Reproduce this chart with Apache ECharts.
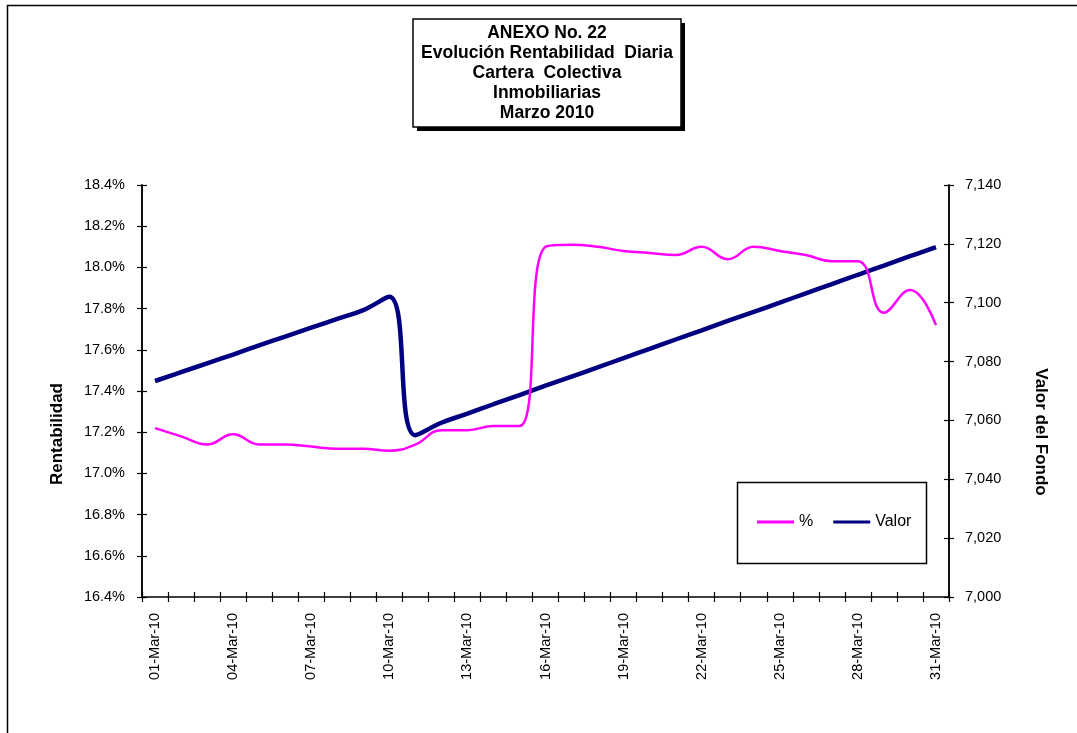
<!DOCTYPE html>
<html><head><meta charset="utf-8">
<script src="https://cdn.jsdelivr.net/npm/echarts@6/dist/echarts.min.js"></script>
<style>html,body{margin:0;padding:0;background:#fff}#c{width:1077px;height:733px}</style>
</head><body><div id="c"></div>
<script>
const categories = ['01-Mar-10','02-Mar-10','03-Mar-10','04-Mar-10','05-Mar-10','06-Mar-10','07-Mar-10','08-Mar-10','09-Mar-10','10-Mar-10','11-Mar-10','12-Mar-10','13-Mar-10','14-Mar-10','15-Mar-10','16-Mar-10','17-Mar-10','18-Mar-10','19-Mar-10','20-Mar-10','21-Mar-10','22-Mar-10','23-Mar-10','24-Mar-10','25-Mar-10','26-Mar-10','27-Mar-10','28-Mar-10','29-Mar-10','30-Mar-10','31-Mar-10'];
const rentabilidad = [17.22, 17.18, 17.14, 17.19, 17.14, 17.14, 17.13, 17.12, 17.12, 17.11, 17.14, 17.21, 17.21, 17.23, 17.23, 18.10, 18.11, 18.10, 18.08, 18.07, 18.06, 18.10, 18.04, 18.10, 18.08, 18.06, 18.03, 18.03, 17.78, 17.89, 17.72];
const valor = [7073.4, 7076.4, 7079.4, 7082.4, 7085.5, 7088.5, 7091.5, 7094.5, 7097.5, 7102.0, 7055.0, 7059.2, 7062.3, 7065.5, 7068.6, 7071.8, 7074.9, 7078.0, 7081.2, 7084.3, 7087.5, 7090.6, 7093.8, 7096.9, 7100.0, 7103.2, 7106.3, 7109.5, 7112.6, 7115.8, 7118.9];
const titleLines = ['ANEXO No. 22', 'Evolución Rentabilidad  Diaria', 'Cartera  Colectiva', 'Inmobiliarias', 'Marzo 2010'];
const seriesNames = ['%', 'Valor'];
const leftAxisName = 'Rentabilidad';
const rightAxisName = 'Valor del Fondo';

const FONT = "'Liberation Sans', Arial, sans-serif";
const chart = echarts.init(document.getElementById('c'));
const axisLineStyle = { color: '#000', width: 1.5 };
const tickStyle = { color: '#000', width: 1.2 };
function yBase(min, max, interval, pos, fmt, margin) {
  return {
    type: 'value', position: pos, min: min, max: max, interval: interval,
    axisLine: { show: true, lineStyle: axisLineStyle },
    axisTick: { show: true, length: 5, lineStyle: tickStyle },
    axisLabel: { fontFamily: FONT, fontSize: 14.5, color: '#000', margin: margin, formatter: fmt },
    splitLine: { show: false }
  };
}
const fmtPct = v => v.toFixed(1) + '%';
const fmtNum = v => Math.round(v).toString().replace(/\B(?=(\d{3})+(?!\d))/g, ',');
const yLeft = yBase(16.4, 18.4, 0.2, 'left', fmtPct, 17);
const yRight = yBase(7000, 7140, 20, 'right', fmtNum, 16);
const yLeftIn = yBase(16.4, 18.4, 0.2, 'left', fmtPct, 17);
yLeftIn.axisTick.inside = true; yLeftIn.axisLabel = { show: false };
const yRightIn = yBase(7000, 7140, 20, 'right', fmtNum, 16);
yRightIn.axisTick.inside = true; yRightIn.axisLabel = { show: false };

chart.setOption({
  animation: false,
  backgroundColor: '#fff',
  grid: { left: 142, right: 128, top: 185, bottom: 136, containLabel: false },
  legend: {
    data: seriesNames, left: 757, top: 514, padding: 0, itemGap: 20,
    itemWidth: 37, itemHeight: 3, icon: 'rect',
    textStyle: { fontFamily: FONT, fontSize: 16, color: '#000' }
  },
  xAxis: [{
    type: 'category', data: categories, boundaryGap: true, position: 'bottom',
    axisLine: { show: true, lineStyle: axisLineStyle },
    axisTick: { show: true, interval: 0, length: 5, lineStyle: tickStyle },
    axisLabel: { interval: 2, rotate: 90, fontFamily: FONT, fontSize: 14.5, color: '#000', margin: 16 },
    splitLine: { show: false }
  }, {
    type: 'category', data: categories, boundaryGap: true, position: 'bottom',
    axisLine: { show: false },
    axisTick: { show: true, interval: 0, inside: true, length: 5, lineStyle: tickStyle },
    axisLabel: { show: false }, splitLine: { show: false }
  }],
  yAxis: [yLeft, yRight, yLeftIn, yRightIn],
  series: [{
    name: seriesNames[1], type: 'line', data: valor, yAxisIndex: 1, xAxisIndex: 0,
    smooth: 0.45, showSymbol: false, z: 2,
    lineStyle: { color: '#000080', width: 4.5 }, itemStyle: { color: '#000080' }
  }, {
    name: seriesNames[0], type: 'line', data: rentabilidad, yAxisIndex: 0, xAxisIndex: 0,
    smooth: 0.45, showSymbol: false, z: 3,
    lineStyle: { color: '#FF00FF', width: 2.5 }, itemStyle: { color: '#FF00FF' }
  }],
  graphic: [
    { type: 'rect', shape: { x: 7.5, y: 5.5, width: 1200, height: 900 }, style: { fill: 'none', stroke: '#000', lineWidth: 1.5 }, z: 0, silent: true },
    { type: 'rect', shape: { x: 417, y: 23, width: 268, height: 108 }, style: { fill: '#000' }, z: 10 },
    { type: 'rect', shape: { x: 413, y: 19, width: 268, height: 108 }, style: { fill: '#fff', stroke: '#000', lineWidth: 1.5 }, z: 11 },
    { type: 'text', x: 547, y: 73, z: 12, style: { text: titleLines.join('\n'), textAlign: 'center', textVerticalAlign: 'middle', lineHeight: 20, fontFamily: FONT, fontSize: 17.5, fontWeight: 'bold', fill: '#000' } },
    { type: 'rect', shape: { x: 737.5, y: 482.5, width: 189, height: 81 }, style: { fill: 'none', stroke: '#000', lineWidth: 1.5 }, z: 5 },
    { type: 'text', x: 57, y: 434, rotation: Math.PI / 2, style: { text: leftAxisName, textAlign: 'center', textVerticalAlign: 'middle', fontFamily: FONT, fontSize: 17, fontWeight: 'bold', fill: '#000' } },
    { type: 'text', x: 1041, y: 432, rotation: -Math.PI / 2, style: { text: rightAxisName, textAlign: 'center', textVerticalAlign: 'middle', fontFamily: FONT, fontSize: 17, fontWeight: 'bold', fill: '#000' } }
  ]
});
</script></body></html>
